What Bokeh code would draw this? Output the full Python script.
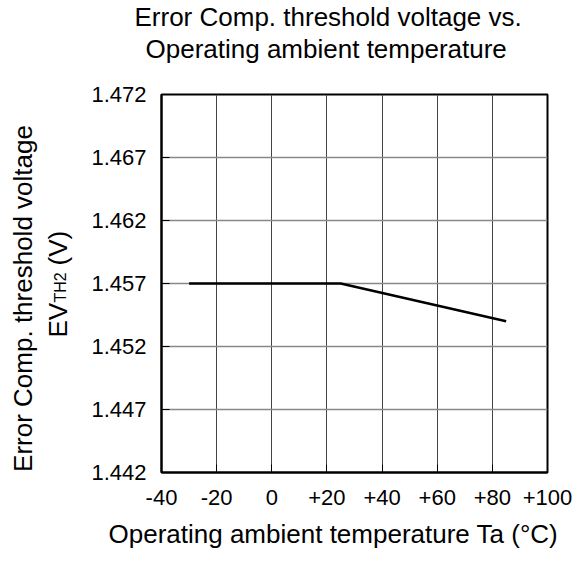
import math
from bokeh.plotting import figure
from bokeh.layouts import row
from bokeh.models import Label, FixedTicker, Range1d, Title
from bokeh.embed import file_html
from bokeh.resources import INLINE

# Data
temperature = [-30, 25, 85]
threshold_v = [1.457, 1.457, 1.454]

x_ticks = [-40, -20, 0, 20, 40, 60, 80, 100]
x_tick_labels = ["-40", "-20", "0", "+20", "+40", "+60", "+80", "+100"]
y_ticks = [1.442, 1.447, 1.452, 1.457, 1.462, 1.467, 1.472]
y_tick_labels = ["1.442", "1.447", "1.452", "1.457", "1.462", "1.467", "1.472"]

title_lines = ["Error Comp. threshold voltage vs.", "Operating ambient temperature"]
x_label = "Operating ambient temperature Ta (\u00b0C)"
y_label_1 = "Error Comp. threshold voltage"
y_label_2 = ["EV", "TH2", "(V)"]

FONT = "Liberation Sans"
W, H = 584, 562
STRIP_W = 88
TOP, BOTTOM = 94, 90

# ---- main chart ----
p = figure(width=W - STRIP_W, height=H, output_backend="svg", toolbar_location=None,
           x_range=Range1d(-40, 100), y_range=Range1d(1.442, 1.472),
           min_border_left=160 - STRIP_W, min_border_right=37,
           min_border_top=TOP, min_border_bottom=BOTTOM)
p.background_fill_color = "white"
p.border_fill_color = "white"
p.outline_line_color = "black"
p.outline_line_width = 2
p.title = None

p.xgrid.ticker = FixedTicker(ticks=x_ticks)
p.ygrid.ticker = FixedTicker(ticks=y_ticks)
p.xgrid.grid_line_color = "#444444"
p.xgrid.grid_line_width = 1
p.ygrid.grid_line_color = "#888888"
p.ygrid.grid_line_width = 1.5

p.xaxis.ticker = FixedTicker(ticks=x_ticks)
p.yaxis.ticker = FixedTicker(ticks=y_ticks)
p.xaxis.major_label_overrides = {t: l for t, l in zip(x_ticks, x_tick_labels)}
p.yaxis.major_label_overrides = {t: l for t, l in zip(y_ticks, y_tick_labels)}
for ax in (p.xaxis, p.yaxis):
    ax.axis_line_color = "black"
    ax.axis_line_width = 2
    ax.major_tick_in = 8
    ax.major_tick_out = 0
    ax.major_tick_line_color = "black"
    ax.major_tick_line_width = 1
    ax.minor_tick_line_color = None
    ax.major_label_text_font = FONT
    ax.major_label_text_font_size = "22px"
    ax.major_label_text_color = "black"
    ax.axis_label = None
p.xaxis.major_label_standoff = 17
p.yaxis.major_label_standoff = 15

p.line(temperature, threshold_v, line_color="black", line_width=2.5)

def title(text, side, offset, standoff):
    t = Title(text=text, align="left", offset=offset, standoff=standoff,
              text_font=FONT, text_font_size="26px", text_font_style="normal",
              text_color="black")
    p.add_layout(t, side)

# added nearest-first
title(title_lines[1], "above", -16, 62)
title(title_lines[0], "above", -27, -62)
title(x_label, "below", -53, 18)

# ---- y-label strip ----
yl = figure(width=STRIP_W, height=H, output_backend="svg", toolbar_location=None,
            x_range=Range1d(0, STRIP_W), y_range=Range1d(0, H - TOP - BOTTOM),
            x_axis_type=None, y_axis_type=None,
            min_border_left=0, min_border_right=0,
            min_border_top=TOP, min_border_bottom=BOTTOM)
yl.outline_line_color = None
yl.grid.visible = False
yl.background_fill_color = "white"
yl.border_fill_color = "white"

FB = H - BOTTOM  # frame bottom in page pixels

def lab(text, x, y, size="26px", align="center"):
    yl.add_layout(Label(x=x, y=y, x_units="screen", y_units="screen", text=text,
                        text_font=FONT, text_font_size=size, text_color="black",
                        text_align=align, text_baseline="alphabetic", angle=math.pi / 2))

lab(y_label_1, 22, FB - 298)
lab(y_label_2[0], 57, FB - 337, align="left")
lab(y_label_2[1], 60, FB - 302, size="16px", align="left")
lab(y_label_2[2], 57, FB - 265, align="left")

layout = row(yl, p, spacing=0)
open("out.html", "w").write(file_html(layout, INLINE))
